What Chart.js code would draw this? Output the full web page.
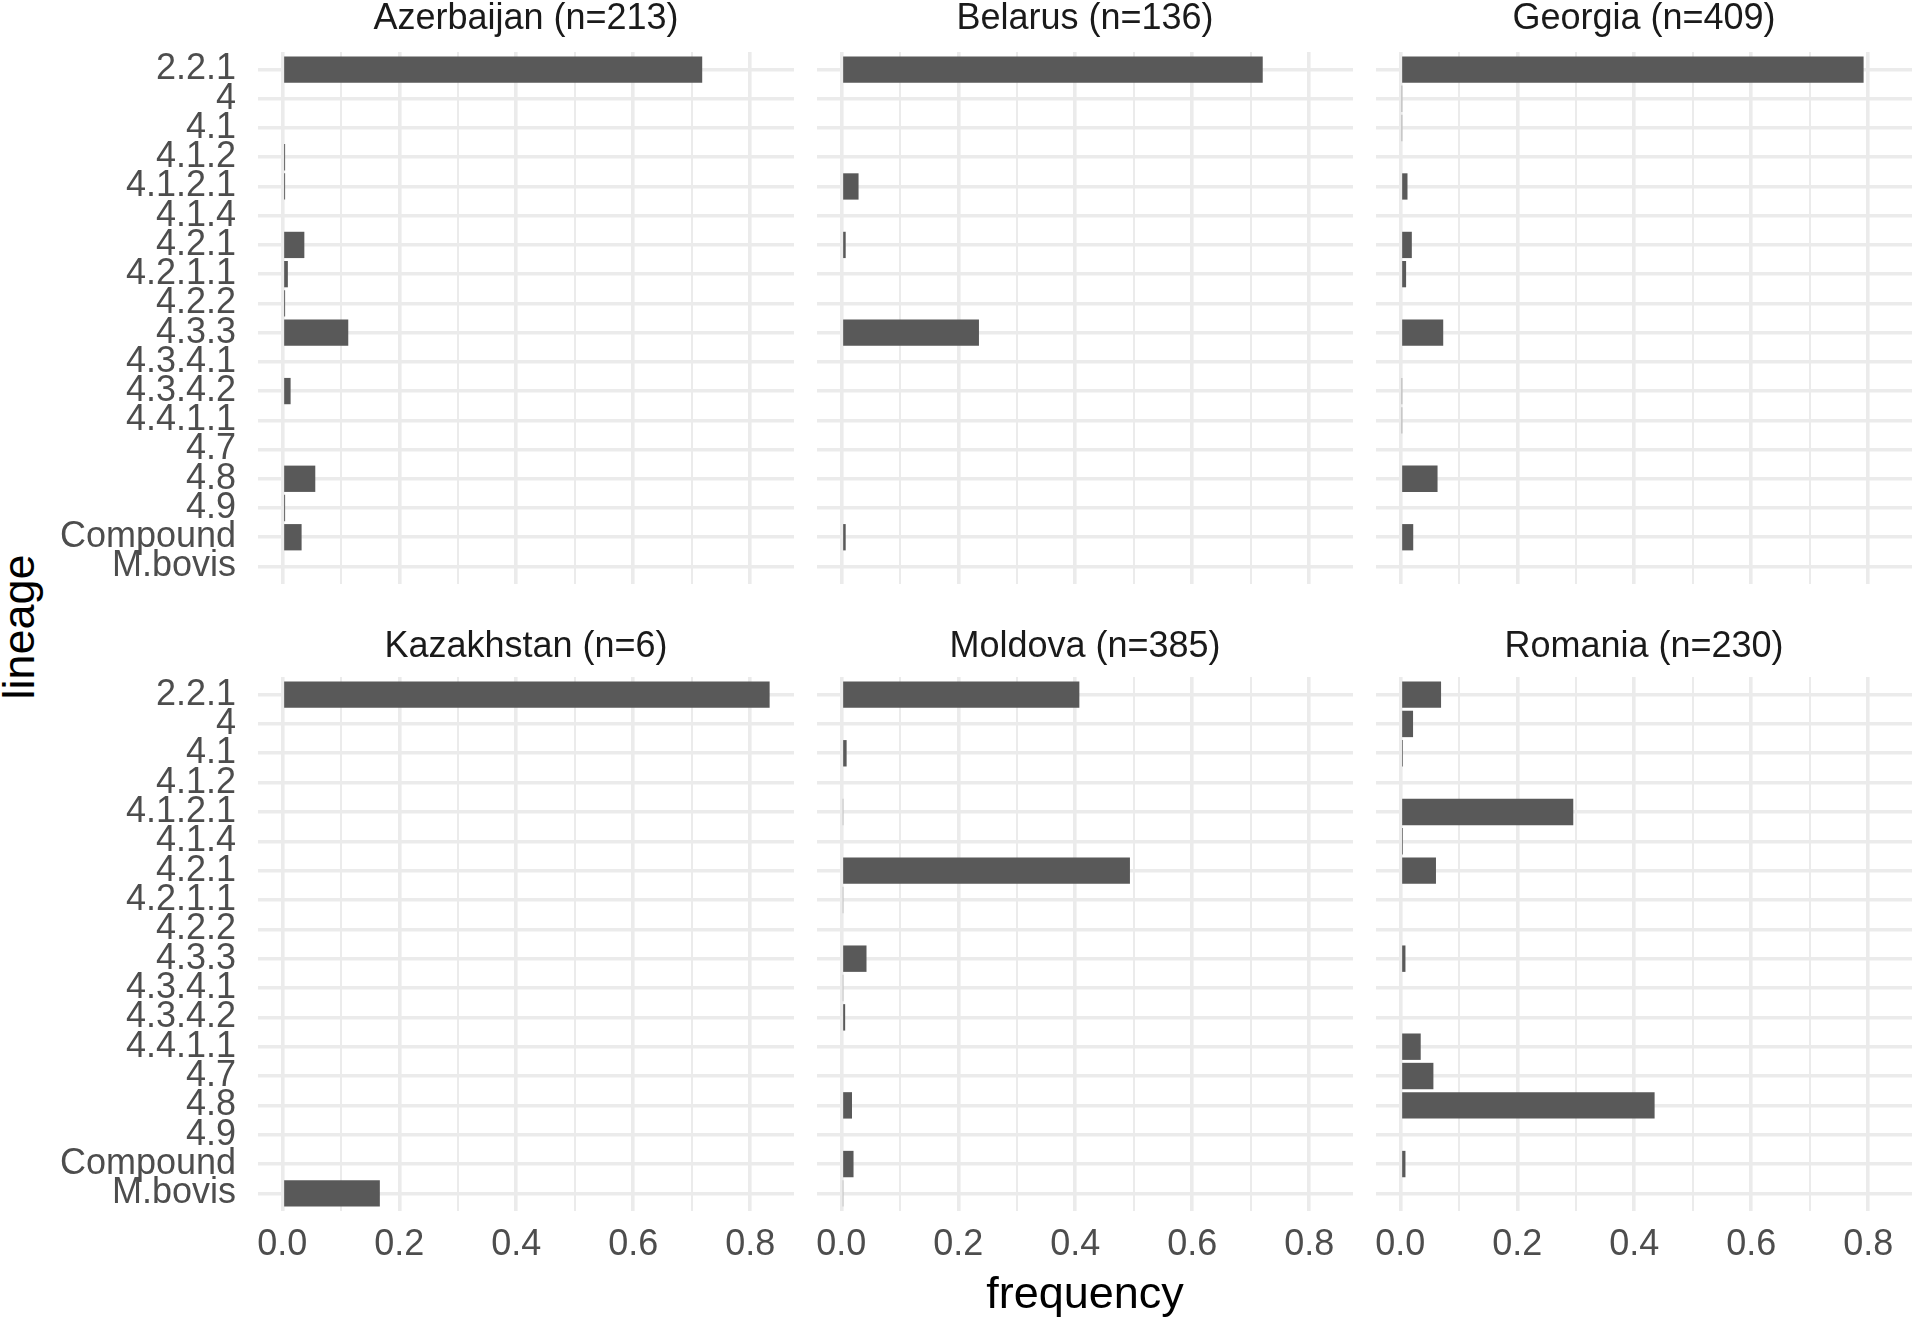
<!DOCTYPE html>
<html><head><meta charset="utf-8">
<script src="https://cdn.jsdelivr.net/npm/chart.js@4.4.1/dist/chart.umd.min.js"></script>
<style>
html,body{margin:0;padding:0;background:#fff;}
body{width:1920px;height:1321px;position:relative;overflow:hidden;font-family:"Liberation Sans",Arial,Helvetica,sans-serif;}
canvas{position:absolute;}
#ylab{position:absolute;left:18px;top:627px;transform:translate(-50%,-50%) rotate(-90deg);font-size:45px;line-height:45px;color:#000;white-space:nowrap;}
</style></head><body>
<div id="ylab">lineage</div>
<script>
const lineages = ['2.2.1','4','4.1','4.1.2','4.1.2.1','4.1.4','4.2.1','4.2.1.1','4.2.2','4.3.3','4.3.4.1','4.3.4.2','4.4.1.1','4.7','4.8','4.9','Compound','M.bovis'];
const countries = ['Azerbaijan','Belarus','Georgia','Kazakhstan','Moldova','Romania'];
const sampleSizes = [213,136,409,6,385,230];
const azerbaijan = [0.718,0,0,0.0047,0.0047,0,0.0376,0.0094,0.0047,0.1127,0,0.0141,0,0,0.0563,0.0047,0.0329,0];
const belarus    = [0.7206,0,0,0,0.0294,0,0.0074,0,0,0.2353,0,0,0,0,0,0,0.0074,0];
const georgia    = [0.7922,0.0024,0.0024,0,0.0122,0,0.0196,0.0098,0,0.0733,0,0.0024,0.0024,0,0.0636,0,0.022,0];
const kazakhstan = [0.8333,0,0,0,0,0,0,0,0,0,0,0,0,0,0,0,0,0.1667];
const moldova    = [0.407,0,0.009,0,0.0026,0,0.4935,0.0026,0,0.043,0.0026,0.0065,0,0,0.0182,0,0.0208,0.0026];
const romania    = [0.0696,0.0217,0.0043,0,0.2957,0.0043,0.0609,0,0,0.0087,0,0,0.0348,0.0565,0.4348,0,0.0087,0];
const xTickValues = [0,0.1,0.2,0.3,0.4,0.5,0.6,0.7,0.8];
const xTickLabels = ['0.0','','0.2','','0.4','','0.6','','0.8'];
const xAxisTitle = 'frequency';

const series = [azerbaijan, belarus, georgia, kazakhstan, moldova, romania];
const maxVal = Math.max(...series.flat());
const xMin = -0.05 * maxVal, xMax = 1.05 * maxVal;
const FONT = '"Liberation Sans", Arial, Helvetica, sans-serif';
Chart.defaults.font.family = FONT;

// canvas rects; chart areas: cols x 258-794, 817-1353, 1376-1912; rows y 52-584, 677-1211
const cols = [
  {left:0, width:824, pl:0, pr:30, yW:258},
  {left:787, width:596, pl:30, pr:30, yW:0},
  {left:1346, width:574, pl:30, pr:8, yW:0}
];
const rows = [
  {top:0, height:634, pb:50, xH:0, tp:1, tb:15},
  {top:628, height:693, pb:0, xH:110, tp:1, tb:12}
];

series.forEach((vals, k) => {
  const c = cols[k % 3], r = rows[Math.floor(k / 3)];
  const cv = document.createElement('canvas');
  cv.width = c.width; cv.height = r.height;
  cv.style.left = c.left + 'px'; cv.style.top = r.top + 'px';
  cv.style.width = c.width + 'px'; cv.style.height = r.height + 'px';
  document.body.appendChild(cv);
  const showY = k % 3 === 0, showX = k >= 3, showXTitle = k === 4;
  new Chart(cv, {
    type: 'bar',
    data: {
      datasets: [{
        data: vals.map((v, i) => ({x: v, y: i})),
        backgroundColor: '#595959',
        borderWidth: 0,
        barPercentage: 1.0,
        categoryPercentage: 0.9
      }]
    },
    options: {
      indexAxis: 'y',
      responsive: false,
      animation: false,
      events: [],
      layout: {padding: {left: c.pl, right: c.pr, top: 0, bottom: r.pb}},
      plugins: {
        legend: {display: false},
        tooltip: {enabled: false},
        title: {
          display: true,
          text: countries[k] + ' (n=' + sampleSizes[k] + ')',
          color: '#1A1A1A',
          fullSize: false,
          font: {family: FONT, size: 36, weight: 'normal', lineHeight: 1.0},
          padding: {top: r.tp, bottom: r.tb}
        }
      },
      scales: {
        x: {
          type: 'linear',
          position: 'bottom',
          offset: false,
          min: xMin, max: xMax,
          afterBuildTicks: s => { s.ticks = xTickValues.map(v => ({value: v})); },
          afterFit: s => { s.height = r.xH; },
          border: {display: false},
          grid: {
            color: '#EBEBEB',
            offset: false,
            drawTicks: false,
            lineWidth: ctx => (xTickLabels[ctx.index] ? 3.6 : 2)
          },
          ticks: {
            display: showX,
            autoSkip: false,
            maxRotation: 0,
            padding: 12,
            color: '#4D4D4D',
            font: {family: FONT, size: 36, lineHeight: 1.2},
            callback: (v, i) => xTickLabels[i]
          },
          title: {
            display: showXTitle,
            text: xAxisTitle,
            color: '#000000',
            font: {family: FONT, size: 45, lineHeight: 1.0},
            padding: {top: 0, bottom: 3}
          }
        },
        y: {
          type: 'linear',
          position: 'left',
          reverse: true,
          offset: false,
          min: -0.6, max: lineages.length - 1 + 0.6,
          afterBuildTicks: s => { s.ticks = lineages.map((_, i) => ({value: i})); },
          afterFit: s => { s.width = c.yW; },
          border: {display: false},
          grid: {color: '#EBEBEB', offset: false, drawTicks: false, lineWidth: 3.6},
          ticks: {
            display: showY,
            autoSkip: false,
            padding: 22,
            color: '#4D4D4D',
            font: {family: FONT, size: 36, lineHeight: 1.2},
            callback: v => lineages[v]
          }
        }
      }
    }
  });
});
</script>
</body></html>
